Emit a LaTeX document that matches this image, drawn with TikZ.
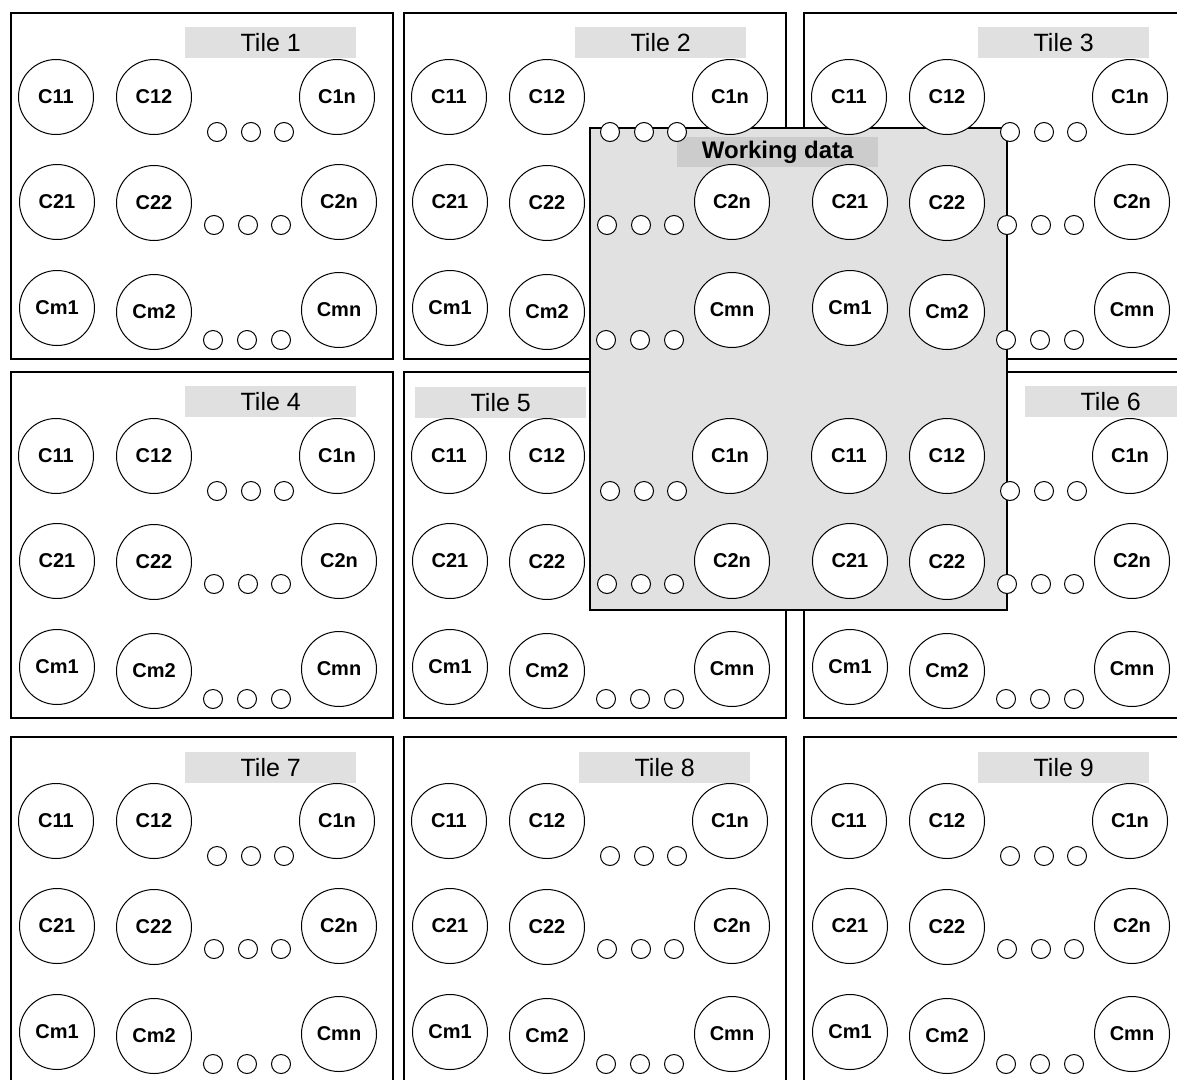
\documentclass[tikz,border=0pt]{standalone}
\usepackage{fontspec}
\setmainfont{Liberation Sans}
\definecolor{bandgray}{RGB}{224,224,224}
\definecolor{wdfill}{RGB}{225,225,225}
\definecolor{wdband}{RGB}{204,204,204}
\tikzset{
  tilebox/.style={draw=black, line width=1.5pt, fill=white, anchor=north west,
    minimum width=382pt, minimum height=346pt, inner sep=0pt, outer sep=0pt},
  tileband/.style={fill=bandgray, anchor=north west, minimum width=171pt,
    minimum height=31pt, inner sep=0pt, font=\fontsize{25}{25}\selectfont},
  bigc/.style={circle, draw=black, line width=1pt, fill=white, minimum size=75pt,
    inner sep=0pt, font=\bfseries\fontsize{20}{20}\selectfont},
  smallc/.style={circle, draw=black, line width=1pt, fill=white, minimum size=19pt,
    inner sep=0pt},
  wdbox/.style={draw=black, line width=1.5pt, fill=wdfill, anchor=north west,
    minimum width=417pt, minimum height=482pt, inner sep=0pt, outer sep=0pt},
  wdlabel/.style={fill=wdband, anchor=north west, minimum width=201pt,
    minimum height=30pt, inner sep=0pt, font=\bfseries\fontsize{24}{24}\selectfont}
}
\begin{document}
\begin{tikzpicture}[x=1pt,y=-1pt]
\useasboundingbox (0,0) rectangle (1177,1079);
\clip (0,0) rectangle (1177,1079);
\fill[white] (0,0) rectangle (1177,1079);
% tiles and their labels
\foreach \t/\ox/\oy/\lx/\ly in {1/11/13/174/14, 2/404/13/171/14, 3/804/13/174/14,
    4/11/372/174/14, 5/404/372/11/15, 6/804/372/221/14,
    7/11/737/174/15, 8/404/737/175/15, 9/804/737/174/15}{
  \node[tilebox] (tile\t) at (\ox,\oy) {};
  \node[tileband] (band\t) at ({\ox+\lx},{\oy+\ly}) {Tile \t};
}
% working data window
\node[wdbox] (wd) at (590,128) {};
\node[wdlabel] (wdl) at (677,137) {Working data};
% circles of every tile
\foreach \t/\ox/\oy in {1/11/13, 2/404/13, 3/804/13, 4/11/372, 5/404/372,
    6/804/372, 7/11/737, 8/404/737, 9/804/737}{
  \foreach \n/\lab/\dx/\dy in {11/C11/45/84, 12/C12/143/84, 1n/C1n/326/84,
      21/C21/46/189, 22/C22/143/190, 2n/C2n/328/189,
      m1/Cm1/46/295, m2/Cm2/143/299, mn/Cmn/328/297}{
    \node[bigc] (t\t-\n) at ({\ox+\dx},{\oy+\dy}) {\lab};
  }
  \foreach \n/\dx/\dy in {a1/206/119, a2/240/119, a3/273/119,
      b1/203/212, b2/237/212, b3/270/212,
      c1/202/327, c2/236/327, c3/270/327}{
    \node[smallc] (t\t-\n) at ({\ox+\dx},{\oy+\dy}) {};
  }
}
\end{tikzpicture}
\end{document}
